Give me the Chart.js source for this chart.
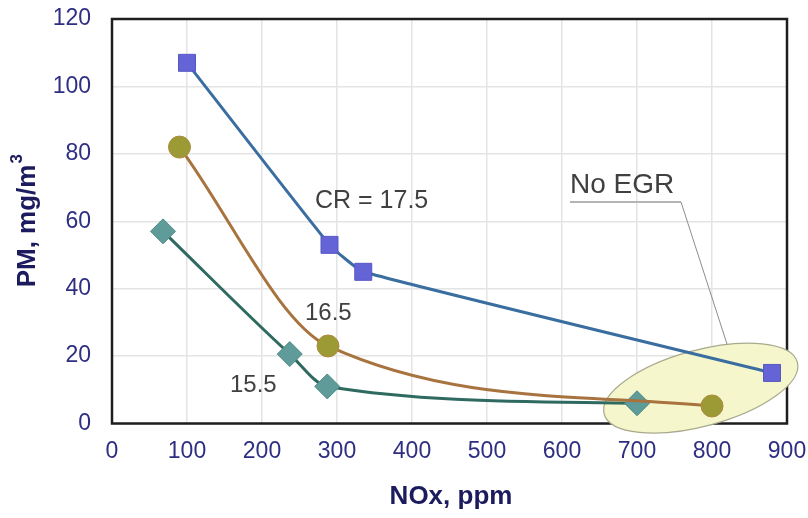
<!DOCTYPE html>
<html>
<head>
<meta charset="utf-8">
<script src="https://cdn.jsdelivr.net/npm/chart.js@4"></script>
<style>
  html, body { margin: 0; padding: 0; background: #ffffff; }
  #wrap { width: 808px; height: 518px; }
</style>
</head>
<body>
<div id="wrap"><canvas id="c" width="808" height="518"></canvas></div>
<script>
// ---- Data ----
const cr175X = [100, 290, 335, 880];
const cr175Y = [107, 53, 45, 15];
const cr165X = [90, 288, 800];
const cr165Y = [82, 23, 5.2];
const cr155X = [68, 237, 287, 700];
const cr155Y = [57, 20.6, 11, 6];
const xTicks = [0, 100, 200, 300, 400, 500, 600, 700, 800, 900];
const yTicks = [0, 20, 40, 60, 80, 100, 120];
const seriesLabels = ['CR = 17.5', '16.5', '15.5'];
const noEgrLabel = 'No EGR';
const xTitle = 'NOx, ppm';
const yTitleMain = 'PM, mg/m';
const yTitleSup = '3';
// No-EGR highlight ellipse (data coords of centre)
const ellipseCenter = [785, 10.5];

const pts = (xs, ys) => xs.map((x, i) => ({ x: x, y: ys[i] }));

const FONT = "'Liberation Sans', Arial, sans-serif";
const TICK_COLOR = '#2e2e82';
const TITLE_COLOR = '#1b1b5e';

const decor = {
  id: 'decor',
  beforeDatasetsDraw(chart) {
    const { ctx, chartArea: a, scales } = chart;
    ctx.save();
    ctx.strokeStyle = '#1e1e1e';
    ctx.lineWidth = 2.5;
    ctx.strokeRect(a.left, a.top, a.right - a.left, a.bottom - a.top);
    const cx = scales.x.getPixelForValue(ellipseCenter[0]);
    const cy = scales.y.getPixelForValue(ellipseCenter[1]);
    ctx.beginPath();
    ctx.ellipse(cx, cy, 100, 38, -15 * Math.PI / 180, 0, Math.PI * 2);
    ctx.fillStyle = '#f6f6cd';
    ctx.fill();
    ctx.strokeStyle = '#a9a98c';
    ctx.lineWidth = 1.2;
    ctx.stroke();
    ctx.restore();
  },
  afterDraw(chart) {
    const { ctx, chartArea: a } = chart;
    ctx.save();
    ctx.strokeStyle = '#b4b4b4';
    ctx.lineWidth = 2;
    ctx.beginPath();
    ctx.moveTo(570, 202);
    ctx.lineTo(681, 202);
    ctx.stroke();
    ctx.strokeStyle = '#8c8c8c';
    ctx.lineWidth = 1;
    ctx.beginPath();
    ctx.moveTo(681, 202);
    ctx.lineTo(727, 344);
    ctx.stroke();
    ctx.fillStyle = '#404040';
    ctx.textBaseline = 'alphabetic';
    ctx.textAlign = 'left';
    ctx.font = '25px ' + FONT;
    ctx.fillText(seriesLabels[0], 315, 208);
    ctx.font = '24px ' + FONT;
    ctx.fillText(seriesLabels[1], 305, 320);
    ctx.fillText(seriesLabels[2], 230, 392);
    ctx.font = '28px ' + FONT;
    ctx.fillText(noEgrLabel, 570, 193);
    ctx.fillStyle = TITLE_COLOR;
    ctx.font = 'bold 26px ' + FONT;
    ctx.textAlign = 'center';
    ctx.textBaseline = 'middle';
    ctx.fillText(xTitle, 451, 497);
    ctx.translate(25, (a.top + a.bottom) / 2);
    ctx.rotate(-Math.PI / 2);
    ctx.font = 'bold 26px ' + FONT;
    const w1 = ctx.measureText(yTitleMain).width;
    ctx.font = 'bold 17px ' + FONT;
    const w2 = ctx.measureText(yTitleSup).width;
    const start = -(w1 + w2) / 2;
    ctx.textAlign = 'left';
    ctx.textBaseline = 'alphabetic';
    ctx.font = 'bold 26px ' + FONT;
    ctx.fillText(yTitleMain, start, 10);
    ctx.font = 'bold 17px ' + FONT;
    ctx.fillText(yTitleSup, start + w1 + 1, -3);
    ctx.restore();
  }
};

new Chart(document.getElementById('c'), {
  type: 'line',
  data: {
    datasets: [
      {
        label: seriesLabels[0],
        data: pts(cr175X, cr175Y),
        borderColor: '#3b6ea0',
        borderWidth: 3,
        tension: 0.12,
        pointStyle: 'rect',
        pointRadius: 12,
        pointBackgroundColor: '#6464d6',
        pointBorderColor: '#5757c4',
        pointBorderWidth: 1,
        clip: false
      },
      {
        label: seriesLabels[1],
        data: pts(cr165X, cr165Y),
        borderColor: '#a8733f',
        borderWidth: 3,
        cubicInterpolationMode: 'monotone',
        pointStyle: 'circle',
        pointRadius: 11,
        pointBackgroundColor: '#9c9a35',
        pointBorderColor: '#ad8a3e',
        pointBorderWidth: 1,
        clip: false
      },
      {
        label: seriesLabels[2],
        data: pts(cr155X, cr155Y),
        borderColor: '#2f6a60',
        borderWidth: 3,
        cubicInterpolationMode: 'monotone',
        pointStyle: 'rectRot',
        pointRadius: 12.5,
        pointBackgroundColor: '#5f9b98',
        pointBorderColor: '#4d8b88',
        pointBorderWidth: 1,
        clip: false
      }
    ]
  },
  options: {
    responsive: false,
    animation: false,
    layout: { padding: { top: 19, right: 21, left: 0, bottom: 0 } },
    plugins: { legend: { display: false }, tooltip: { enabled: false } },
    scales: {
      x: {
        type: 'linear',
        min: 0, max: 900,
        afterBuildTicks: (s) => { s.ticks = xTicks.map(v => ({ value: v })); },
        afterFit: (s) => { s.height = 94.5; s.paddingLeft = 0; s.paddingRight = 0; },
        grid: { color: '#e4e4e4', lineWidth: 1.5, drawTicks: false },
        border: { display: false },
        ticks: { color: TICK_COLOR, font: { family: FONT, size: 23 }, padding: 14, maxRotation: 0 }
      },
      y: {
        min: 0, max: 120,
        afterBuildTicks: (s) => { s.ticks = yTicks.map(v => ({ value: v })); },
        afterFit: (s) => { s.width = 112; s.paddingTop = 0; s.paddingBottom = 0; },
        grid: { color: '#e4e4e4', lineWidth: 1.5, drawTicks: false },
        border: { display: false },
        ticks: { color: TICK_COLOR, font: { family: FONT, size: 23 }, padding: 21 }
      }
    }
  },
  plugins: [decor]
});
</script>
</body>
</html>
